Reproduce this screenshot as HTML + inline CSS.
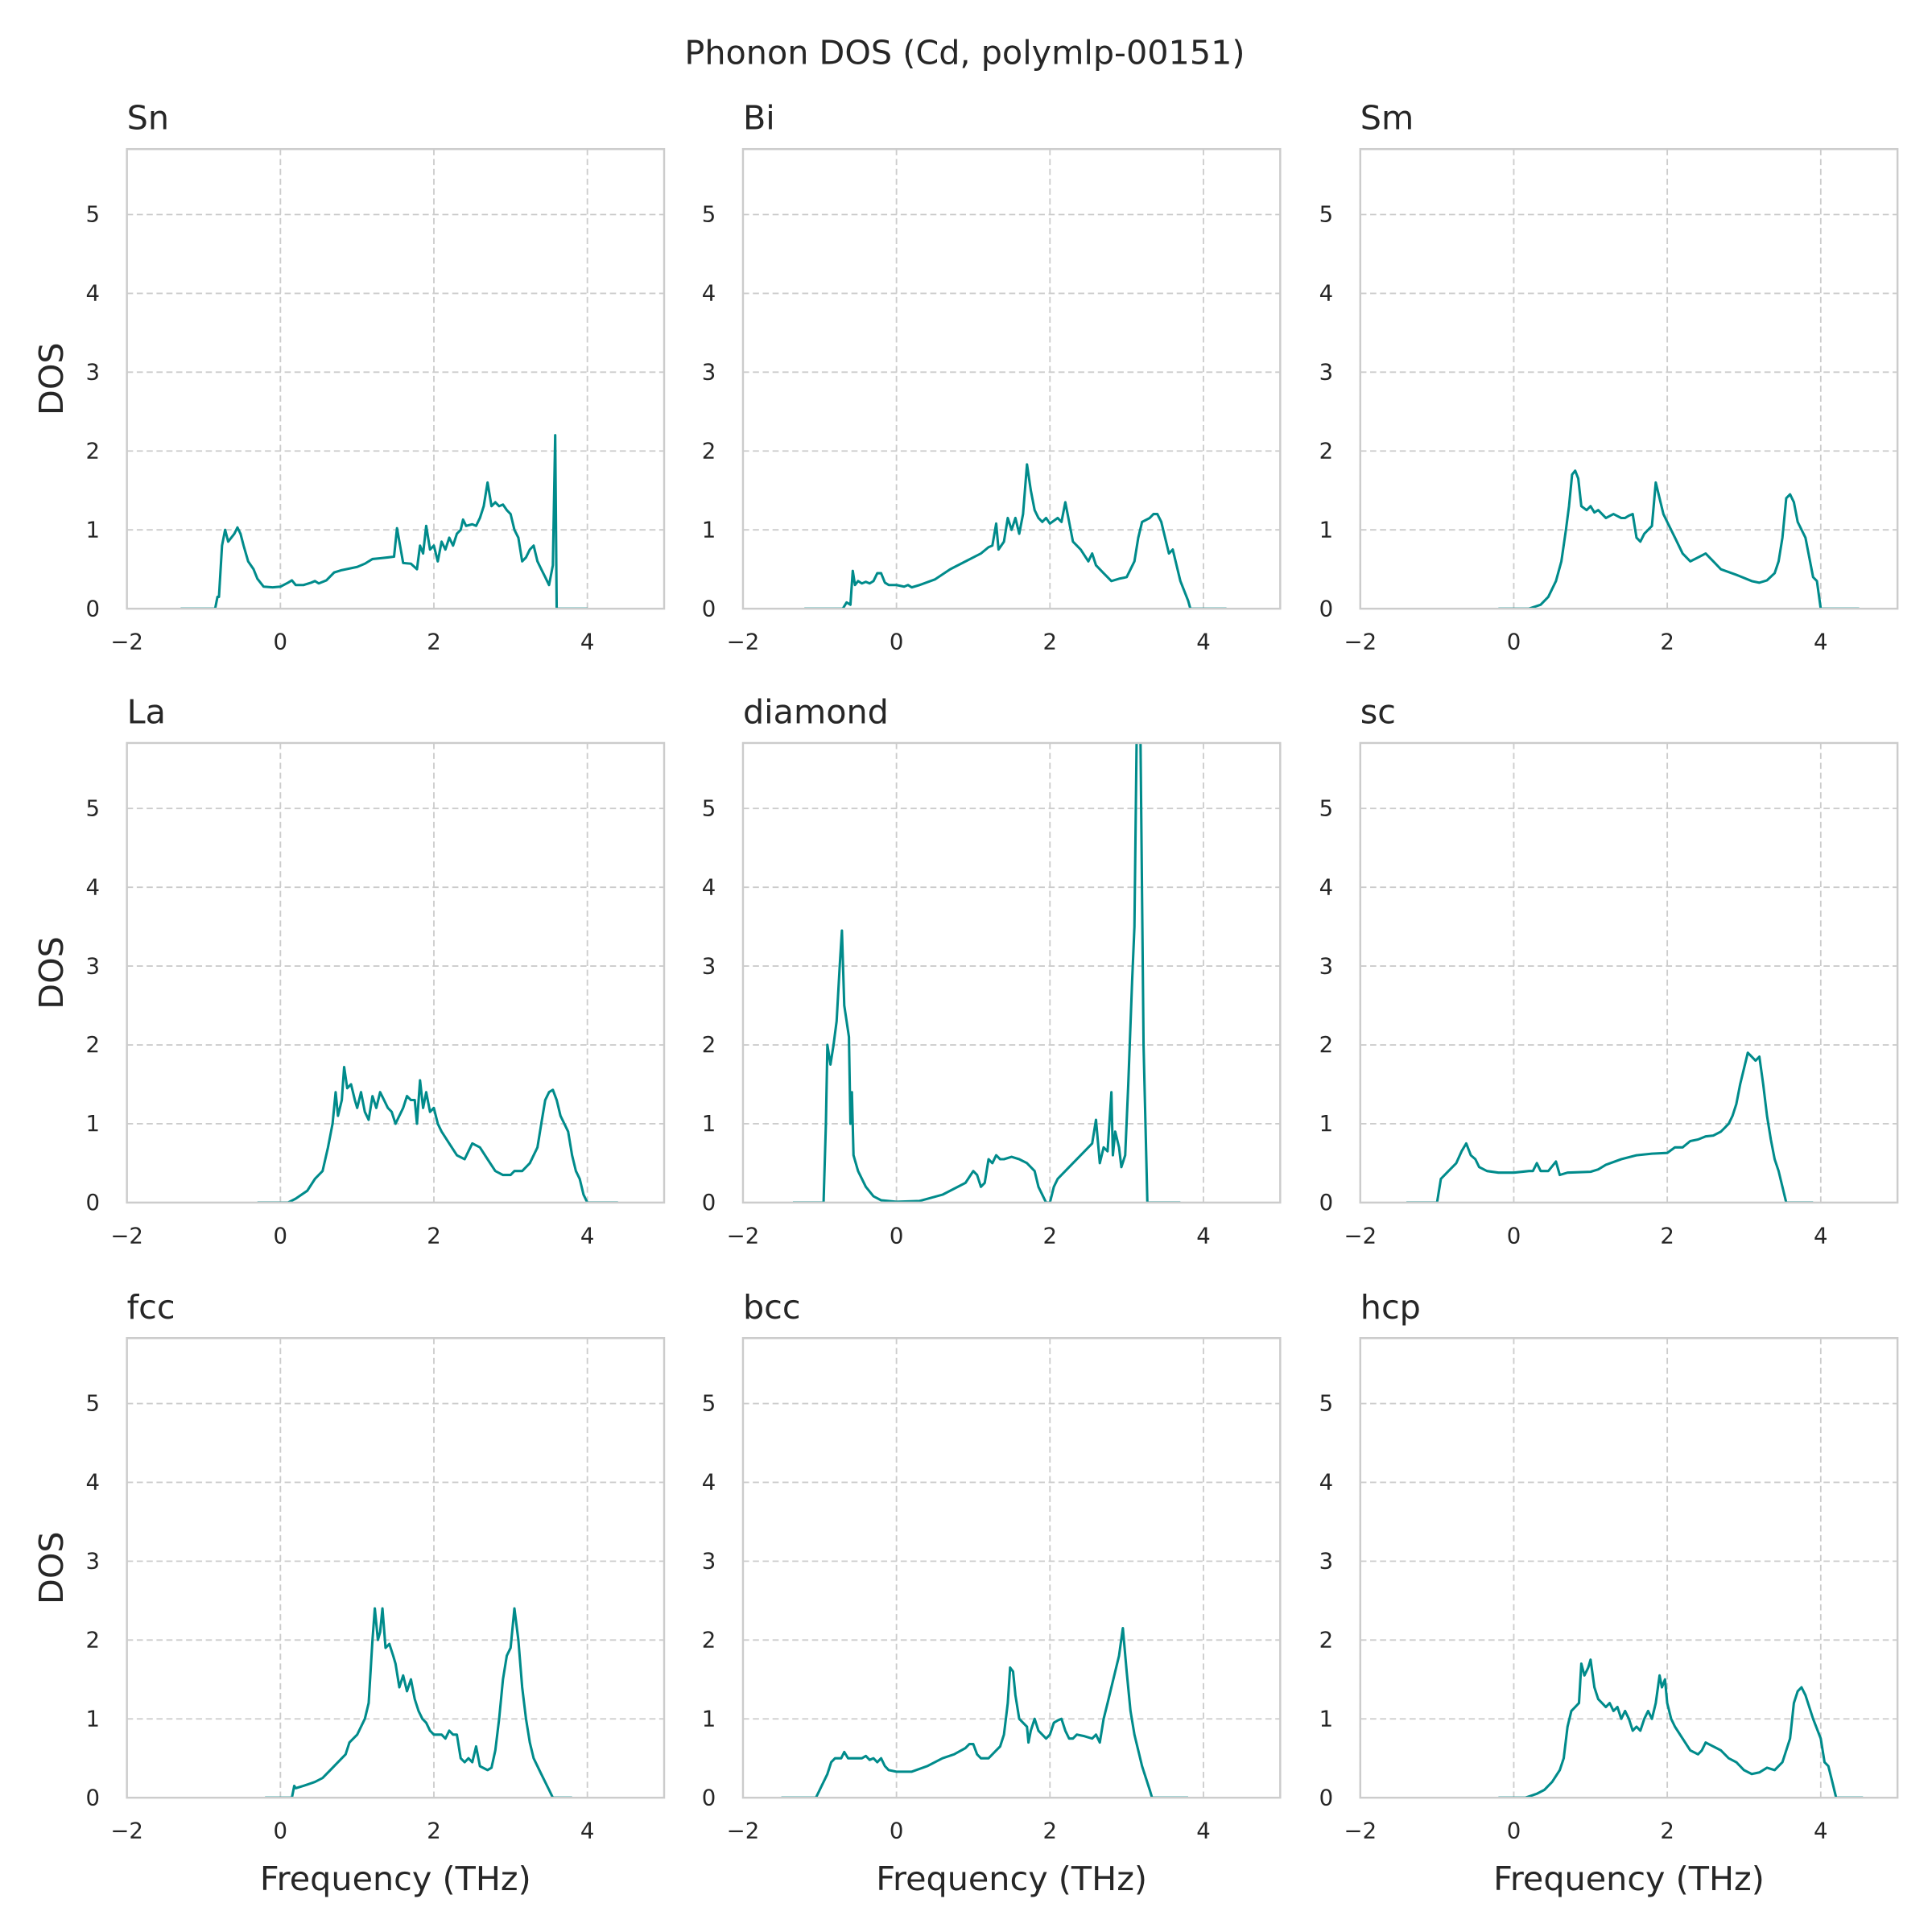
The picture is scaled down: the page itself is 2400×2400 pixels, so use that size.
<!DOCTYPE html>
<html><head><meta charset="utf-8"><title>Phonon DOS</title>
<style>html,body{margin:0;padding:0;background:#fff}svg{display:block}text{font-family:"DejaVu Sans","Liberation Sans",sans-serif;fill:#262626}</style>
</head><body>
<svg id="chart" width="2400" height="2400" viewBox="0 0 1568 1568" xmlns="http://www.w3.org/2000/svg">
<text x="783" y="52" font-size="27" text-anchor="middle">Phonon DOS (Cd, polymlp-00151)</text>
</svg>
<script>
const panelNames = ["Sn","Bi","Sm","La","diamond","sc","fcc","bcc","hcp"];
const xTicks = [-2,0,2,4];
const yTicks = [0,1,2,3,4,5];
const snF=[-1.3,-0.85,-0.82,-0.8,-0.76,-0.72,-0.68,-0.64,-0.6,-0.56,-0.52,-0.48,-0.42,-0.35,-0.3,-0.22,-0.1,0,0.1,0.15,0.2,0.3,0.4,0.45,0.5,0.6,0.7,0.8,1.0,1.1,1.2,1.3,1.4,1.48,1.52,1.56,1.6,1.7,1.78,1.82,1.86,1.9,1.95,2.0,2.05,2.1,2.15,2.2,2.25,2.3,2.35,2.38,2.42,2.5,2.55,2.6,2.65,2.7,2.75,2.8,2.85,2.9,2.95,3.0,3.05,3.1,3.15,3.2,3.25,3.3,3.35,3.4,3.45,3.5,3.55,3.58,3.6,4.0];
const snD=[0,0,0.15,0.15,0.8,1.0,0.85,0.9,0.95,1.03,0.95,0.8,0.6,0.5,0.38,0.28,0.27,0.28,0.33,0.36,0.3,0.3,0.33,0.35,0.32,0.36,0.46,0.49,0.53,0.57,0.63,0.64,0.65,0.66,1.02,0.8,0.58,0.57,0.5,0.8,0.7,1.05,0.75,0.8,0.6,0.85,0.75,0.9,0.8,0.95,1.0,1.13,1.05,1.07,1.05,1.15,1.3,1.6,1.3,1.35,1.3,1.32,1.25,1.2,1.0,0.9,0.6,0.65,0.75,0.8,0.6,0.5,0.4,0.3,0.55,2.2,0,0];
const biF=[-1.2,-0.7,-0.65,-0.6,-0.57,-0.54,-0.5,-0.45,-0.4,-0.35,-0.3,-0.25,-0.2,-0.15,-0.1,0,0.1,0.15,0.2,0.3,0.5,0.7,0.9,1.1,1.2,1.25,1.3,1.33,1.4,1.45,1.5,1.55,1.6,1.65,1.7,1.75,1.8,1.85,1.9,1.95,2.0,2.1,2.15,2.2,2.25,2.3,2.4,2.5,2.55,2.6,2.7,2.8,2.9,3.0,3.1,3.15,3.2,3.3,3.35,3.4,3.45,3.5,3.55,3.6,3.65,3.7,3.8,3.83,4.3];
const biD=[0,0,0.08,0.05,0.48,0.3,0.35,0.32,0.34,0.32,0.35,0.45,0.45,0.33,0.3,0.3,0.28,0.3,0.27,0.3,0.37,0.5,0.6,0.7,0.78,0.8,1.08,0.75,0.85,1.15,1.0,1.15,0.95,1.2,1.83,1.5,1.25,1.15,1.1,1.15,1.08,1.15,1.1,1.35,1.1,0.85,0.75,0.6,0.7,0.55,0.45,0.35,0.38,0.4,0.6,0.9,1.1,1.15,1.2,1.2,1.1,0.9,0.7,0.75,0.55,0.35,0.1,0,0];
const smF=[-0.2,0.2,0.35,0.45,0.55,0.62,0.68,0.72,0.76,0.8,0.84,0.88,0.95,1.0,1.05,1.1,1.2,1.3,1.4,1.45,1.5,1.55,1.6,1.65,1.7,1.8,1.85,1.9,1.95,2.0,2.1,2.2,2.3,2.4,2.5,2.6,2.7,2.9,3.1,3.2,3.3,3.4,3.45,3.5,3.55,3.6,3.65,3.7,3.8,3.85,3.9,3.95,4.0,4.5];
const smD=[0,0,0.05,0.15,0.35,0.6,1.0,1.3,1.7,1.75,1.65,1.3,1.25,1.3,1.22,1.25,1.15,1.2,1.15,1.15,1.18,1.2,0.9,0.85,0.95,1.05,1.6,1.4,1.2,1.1,0.9,0.7,0.6,0.65,0.7,0.6,0.5,0.43,0.35,0.33,0.36,0.45,0.6,0.9,1.4,1.45,1.35,1.1,0.9,0.65,0.4,0.35,0,0];
const laF=[-0.3,0.1,0.2,0.35,0.45,0.55,0.62,0.68,0.72,0.75,0.8,0.83,0.87,0.92,0.97,1.0,1.05,1.1,1.15,1.2,1.25,1.3,1.35,1.4,1.45,1.5,1.55,1.6,1.65,1.7,1.75,1.78,1.82,1.86,1.9,1.95,2.0,2.05,2.1,2.2,2.3,2.4,2.45,2.5,2.6,2.7,2.8,2.9,3.0,3.05,3.15,3.25,3.35,3.4,3.45,3.5,3.55,3.6,3.65,3.75,3.8,3.85,3.9,3.95,4.0,4.4];
const laD=[0,0,0.05,0.15,0.3,0.4,0.7,1.0,1.4,1.1,1.3,1.72,1.45,1.5,1.3,1.2,1.4,1.15,1.05,1.35,1.2,1.4,1.3,1.2,1.15,1.0,1.1,1.2,1.35,1.3,1.3,1.0,1.55,1.2,1.4,1.15,1.2,1.0,0.9,0.75,0.6,0.55,0.65,0.75,0.7,0.55,0.4,0.35,0.35,0.4,0.4,0.5,0.7,1.0,1.3,1.4,1.43,1.3,1.1,0.9,0.6,0.4,0.3,0.1,0,0];
const diF=[-1.35,-0.95,-0.92,-0.9,-0.86,-0.82,-0.78,-0.74,-0.71,-0.68,-0.65,-0.62,-0.6,-0.58,-0.56,-0.5,-0.4,-0.3,-0.2,0,0.3,0.6,0.8,0.9,1.0,1.05,1.1,1.15,1.2,1.25,1.3,1.35,1.4,1.5,1.6,1.7,1.8,1.85,1.9,1.95,2.0,2.05,2.1,2.2,2.3,2.4,2.5,2.55,2.6,2.65,2.7,2.75,2.8,2.82,2.85,2.9,2.93,2.98,3.02,3.07,3.1,3.13,3.18,3.22,3.27,3.7];
const diD=[0,0,1.0,2.0,1.75,2.0,2.3,3.0,3.45,2.5,2.3,2.1,1.0,1.4,0.6,0.4,0.2,0.08,0.03,0.01,0.02,0.1,0.2,0.25,0.4,0.35,0.2,0.25,0.55,0.5,0.6,0.55,0.55,0.58,0.55,0.5,0.4,0.2,0.1,0,0,0.2,0.3,0.4,0.5,0.6,0.7,0.75,1.05,0.5,0.7,0.65,1.4,0.6,0.9,0.7,0.45,0.6,1.5,2.8,3.5,5.9,5.9,2.0,0,0];
const scF=[-1.4,-1.0,-0.95,-0.85,-0.75,-0.68,-0.62,-0.56,-0.5,-0.45,-0.35,-0.2,0,0.2,0.25,0.3,0.35,0.45,0.55,0.6,0.7,1.0,1.1,1.2,1.4,1.6,1.8,2.0,2.1,2.2,2.3,2.4,2.5,2.6,2.7,2.75,2.8,2.85,2.9,2.95,3.0,3.05,3.1,3.15,3.2,3.25,3.3,3.35,3.4,3.45,3.5,3.55,3.9];
const scD=[0,0,0.3,0.4,0.5,0.65,0.75,0.6,0.55,0.45,0.4,0.38,0.38,0.4,0.4,0.5,0.4,0.4,0.52,0.35,0.38,0.39,0.42,0.48,0.55,0.6,0.62,0.63,0.7,0.7,0.78,0.8,0.84,0.85,0.9,0.95,1.0,1.1,1.25,1.5,1.7,1.9,1.85,1.8,1.85,1.5,1.1,0.8,0.55,0.4,0.2,0,0];
const fcF=[-0.2,0.15,0.18,0.2,0.3,0.45,0.55,0.65,0.75,0.85,0.9,1.0,1.05,1.1,1.15,1.2,1.23,1.27,1.3,1.33,1.37,1.42,1.47,1.5,1.55,1.6,1.65,1.7,1.75,1.8,1.85,1.9,1.95,2.0,2.1,2.15,2.2,2.25,2.3,2.35,2.4,2.45,2.5,2.55,2.6,2.7,2.75,2.8,2.85,2.9,2.95,3.0,3.05,3.1,3.15,3.2,3.25,3.3,3.4,3.5,3.55,3.8];
const fcD=[0,0,0.15,0.12,0.15,0.2,0.25,0.35,0.45,0.55,0.7,0.8,0.9,1.0,1.2,2.0,2.4,2.0,2.1,2.4,1.9,1.95,1.8,1.7,1.4,1.55,1.35,1.5,1.25,1.1,1.0,0.95,0.85,0.8,0.8,0.75,0.85,0.8,0.8,0.5,0.45,0.5,0.45,0.65,0.4,0.35,0.38,0.6,1.0,1.5,1.8,1.9,2.4,2.0,1.4,1.0,0.7,0.5,0.3,0.1,0,0];
const bcF=[-1.5,-1.05,-1.0,-0.9,-0.85,-0.8,-0.72,-0.68,-0.63,-0.55,-0.45,-0.4,-0.35,-0.3,-0.25,-0.2,-0.15,-0.1,0,0.2,0.4,0.6,0.75,0.9,0.95,1.0,1.05,1.1,1.2,1.3,1.35,1.4,1.45,1.48,1.52,1.55,1.6,1.65,1.7,1.72,1.75,1.8,1.85,1.9,1.95,2.0,2.05,2.1,2.15,2.2,2.25,2.3,2.35,2.45,2.55,2.6,2.65,2.7,2.75,2.8,2.85,2.9,2.95,3.0,3.05,3.1,3.15,3.2,3.3,3.33,3.8];
const bcD=[0,0,0.1,0.3,0.45,0.5,0.5,0.58,0.5,0.5,0.5,0.53,0.48,0.5,0.45,0.5,0.4,0.35,0.33,0.33,0.4,0.5,0.55,0.63,0.68,0.68,0.55,0.5,0.5,0.6,0.65,0.8,1.2,1.65,1.6,1.3,1.0,0.95,0.9,0.7,0.85,1.0,0.85,0.8,0.75,0.8,0.95,0.98,1.0,0.85,0.75,0.75,0.8,0.78,0.75,0.8,0.7,1.0,1.2,1.4,1.6,1.8,2.15,1.6,1.1,0.8,0.6,0.4,0.1,0,0];
const hcF=[-0.2,0.15,0.3,0.4,0.5,0.6,0.65,0.7,0.75,0.8,0.85,0.88,0.92,0.97,1.0,1.05,1.1,1.15,1.2,1.25,1.3,1.35,1.4,1.45,1.5,1.55,1.6,1.65,1.7,1.75,1.8,1.85,1.9,1.93,1.97,2.0,2.05,2.1,2.2,2.3,2.4,2.45,2.5,2.6,2.7,2.8,2.9,3.0,3.1,3.2,3.3,3.4,3.5,3.6,3.65,3.7,3.75,3.8,3.9,4.0,4.05,4.1,4.15,4.2,4.55];
const hcD=[0,0,0.05,0.1,0.2,0.35,0.5,0.9,1.1,1.15,1.2,1.7,1.55,1.65,1.75,1.4,1.25,1.2,1.15,1.2,1.1,1.15,1.0,1.1,1.0,0.85,0.9,0.85,1.0,1.1,1.0,1.2,1.55,1.4,1.5,1.2,1.0,0.9,0.75,0.6,0.55,0.6,0.7,0.65,0.6,0.5,0.45,0.35,0.3,0.32,0.38,0.35,0.45,0.75,1.2,1.35,1.4,1.3,1.0,0.75,0.45,0.4,0.2,0,0];
const freqs=[snF,biF,smF,laF,diF,scF,fcF,bcF,hcF];
const dosVals=[snD,biD,smD,laD,diD,scD,fcD,bcD,hcD];

const NS="http://www.w3.org/2000/svg";
const svg=document.getElementById('chart');
const colX=[103,603,1104], rowY=[121,603,1086], PW=436, PH=373;
const XMIN=-2,XMAX=5,YMIN=0,YMAX=5.83;
function mk(tag,attrs,parent){const e=document.createElementNS(NS,tag);for(const k in attrs)e.setAttribute(k,attrs[k]);(parent||svg).appendChild(e);return e;}
panelNames.forEach((name,i)=>{
  const c=i%3,r=Math.floor(i/3),x0=colX[c],y0=rowY[r];
  const sx=v=>x0+(v-XMIN)/(XMAX-XMIN)*PW;
  const sy=v=>y0+PH-(v-YMIN)/(YMAX-YMIN)*PH;
  const g=mk('g',{});
  
  
  const clipId='clip'+i;
  const cp=mk('clipPath',{id:clipId},g);
  mk('rect',{x:x0,y:y0,width:PW,height:PH},cp);
  xTicks.forEach(t=>{
    const gl=mk('line',{x1:sx(t),x2:sx(t),y1:y0,y2:y0+PH,stroke:'#cccccc','stroke-width':1.2,'stroke-dasharray':'5,3'},g);
    
    
    const tl=mk('text',{x:sx(t),y:y0+PH+33,'font-size':18,'text-anchor':'middle'},g);
    tl.textContent=t<0?'\u2212'+Math.abs(t):String(t);
    
    
  });
  yTicks.forEach(t=>{
    if(t>0){const gl=mk('line',{x1:x0,x2:x0+PW,y1:sy(t),y2:sy(t),stroke:'#cccccc','stroke-width':1.2,'stroke-dasharray':'5,3'},g);
    
    }
    const tl=mk('text',{x:x0-22,y:sy(t)+6,'font-size':18,'text-anchor':'end'},g);
    tl.textContent=String(t);
    
    
  });
  const fr=freqs[i],dv=dosVals[i];
  const d=fr.map((f,k)=>(k?'L':'M')+sx(f).toFixed(1)+','+sy(dv[k]).toFixed(1)).join(' ');
  const p=mk('path',{d:d,fill:'none',stroke:'#008b8b','stroke-width':2,'stroke-linejoin':'round','clip-path':'url(#'+clipId+')'},g);
  
  
  const fr2=mk('rect',{x:x0,y:y0,width:PW,height:PH,fill:'none',stroke:'#cccccc','stroke-width':1.6},g);
  
  
  const tt=mk('text',{x:x0,y:y0-16,'font-size':27},g);
  tt.textContent=name;
  
  
  if(c===0){
    const yl=mk('text',{x:0,y:0,'font-size':27,'text-anchor':'middle',transform:'translate('+(x0-52)+','+(y0+PH/2)+') rotate(-90)'},g);
    yl.textContent='DOS';
    
    
  }
  if(r===2){
    const xl=mk('text',{x:x0+PW/2,y:y0+PH+75,'font-size':27,'text-anchor':'middle'},g);
    xl.textContent='Frequency (THz)';
    
    
  }
});
</script>
</body></html>
